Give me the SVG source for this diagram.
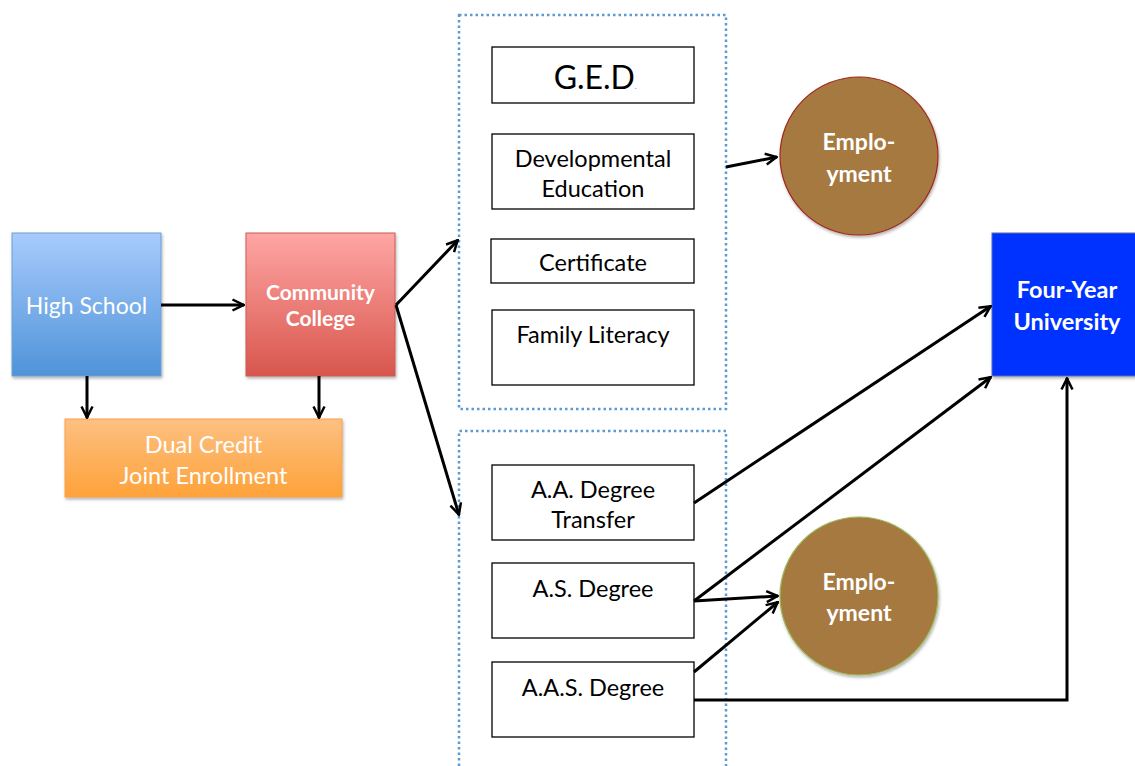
<svg xmlns="http://www.w3.org/2000/svg" width="1135" height="766" viewBox="0 0 1135 766">
<defs>
<linearGradient id="gBlue" x1="0" y1="0" x2="0" y2="1"><stop offset="0" stop-color="#a8cbfd"/><stop offset="1" stop-color="#4f93d8"/></linearGradient>
<linearGradient id="gRed" x1="0" y1="0" x2="0" y2="1"><stop offset="0" stop-color="#ffa6a4"/><stop offset="1" stop-color="#d8564d"/></linearGradient>
<linearGradient id="gOrange" x1="0" y1="0" x2="0" y2="1"><stop offset="0" stop-color="#fdc082"/><stop offset="1" stop-color="#fea239"/></linearGradient>
<filter id="sh" x="-10%" y="-10%" width="130%" height="130%"><feDropShadow dx="1" dy="2" stdDeviation="1.5" flood-color="#000" flood-opacity="0.3"/></filter>
<marker id="ah" viewBox="0 0 14 14" refX="13" refY="7" markerWidth="14" markerHeight="14" markerUnits="userSpaceOnUse" orient="auto"><path d="M1.5,1.5 L12.5,7 L1.5,12.5" fill="none" stroke="#000" stroke-width="2.5"/></marker>
</defs>
<style>
.t{font-family:Lato,"Open Sans","Liberation Sans",sans-serif;text-anchor:middle}
.w{fill:#fff}
.b{font-weight:bold}
.box{fill:#fff;stroke:#000;stroke-width:1.3}
.dot{fill:none;stroke:#5b9bd5;stroke-width:2.5;stroke-dasharray:2.5 3}
.c{fill:none;stroke:#000;stroke-width:3}
</style>
<g id="group-top"><rect class="dot" x="459" y="15" width="267" height="394"/></g>
<g id="group-bottom"><path class="dot" d="M459,766 V431 H726 V766"/></g>
<g id="high-school"><rect x="12" y="233" width="149" height="143" fill="url(#gBlue)" stroke="#6a9fd8" filter="url(#sh)"/><text class="t w" x="86.5" y="314" font-size="23">High School</text></g>
<g id="community-college"><rect x="246" y="233" width="149" height="143" fill="url(#gRed)" stroke="#c95a52" filter="url(#sh)"/><text class="t w b" x="320.5" y="300" font-size="21">Community</text><text class="t w b" x="320.5" y="326" font-size="21">College</text></g>
<g id="dual-credit"><rect x="65" y="419" width="277" height="78" fill="url(#gOrange)" stroke="#f7a04a" filter="url(#sh)"/><text class="t w" x="203.5" y="453" font-size="23.5">Dual Credit</text><text class="t w" x="203.5" y="484" font-size="23.5">Joint Enrollment</text></g>
<g id="ged"><rect class="box" x="492" y="47" width="202" height="56"/><text class="t" x="595" y="89" font-size="32">G.E.D<tspan font-size="6">.</tspan></text></g>
<g id="dev-ed"><rect class="box" x="492" y="134" width="202" height="75"/><text class="t" x="593" y="167" font-size="23.5">Developmental</text><text class="t" x="593" y="197" font-size="23.5">Education</text></g>
<g id="certificate"><rect class="box" x="491" y="239" width="203" height="44"/><text class="t" x="593" y="271" font-size="23.5">Certificate</text></g>
<g id="family-literacy"><rect class="box" x="492" y="310" width="202" height="75"/><text class="t" x="593" y="343" font-size="23.5">Family Literacy</text></g>
<g id="aa-degree"><rect class="box" x="492" y="465" width="202" height="75"/><text class="t" x="593" y="498" font-size="23.5">A.A. Degree</text><text class="t" x="593" y="528" font-size="23.5">Transfer</text></g>
<g id="as-degree"><rect class="box" x="492" y="563" width="202" height="75"/><text class="t" x="593" y="597" font-size="23.5">A.S. Degree</text></g>
<g id="aas-degree"><rect class="box" x="492" y="662" width="202" height="75"/><text class="t" x="593" y="696" font-size="23.5">A.A.S. Degree</text></g>
<g id="employment-top"><circle cx="859" cy="156" r="79" fill="#a67941" stroke="#a0271f" stroke-width="1.2" filter="url(#sh)"/><text class="t w b" x="859" y="150" font-size="23">Emplo-</text><text class="t w b" x="859" y="182" font-size="23">yment</text></g>
<g id="employment-bottom"><circle cx="859" cy="596" r="79" fill="#a67941" stroke="#9bbb59" stroke-width="1.2" filter="url(#sh)"/><text class="t w b" x="859" y="590" font-size="23">Emplo-</text><text class="t w b" x="859" y="621" font-size="23">yment</text></g>
<g id="university"><rect x="992" y="233" width="145" height="143" fill="#0433ff" stroke="#5a6ea8" filter="url(#sh)"/><text class="t w b" x="1067" y="298" font-size="23.5">Four-Year</text><text class="t w b" x="1067" y="330" font-size="23.5">University</text></g>
<g id="connectors">
<line class="c" x1="161" y1="305" x2="244" y2="305" marker-end="url(#ah)"/>
<line class="c" x1="87" y1="376" x2="87" y2="418" marker-end="url(#ah)"/>
<line class="c" x1="319" y1="376" x2="319" y2="418" marker-end="url(#ah)"/>
<line class="c" x1="396" y1="305" x2="458" y2="240" marker-end="url(#ah)"/>
<line class="c" x1="396" y1="305" x2="459" y2="515" marker-end="url(#ah)"/>
<line class="c" x1="726" y1="167" x2="777" y2="157" marker-end="url(#ah)"/>
<line class="c" x1="694" y1="503" x2="991" y2="306" marker-end="url(#ah)"/>
<line class="c" x1="694" y1="601" x2="991" y2="377" marker-end="url(#ah)"/>
<line class="c" x1="694" y1="601" x2="778" y2="596" marker-end="url(#ah)"/>
<line class="c" x1="694" y1="672" x2="778" y2="602" marker-end="url(#ah)"/>
<path class="c" d="M694,700 H1067 V378" marker-end="url(#ah)"/>
</g>
</svg>
